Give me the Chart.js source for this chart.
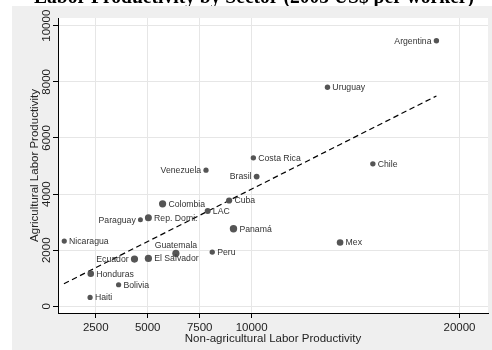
<!DOCTYPE html>
<html>
<head>
<meta charset="utf-8">
<script src="https://cdn.jsdelivr.net/npm/chart.js@4.4.0/dist/chart.umd.min.js"></script>
<style>
    html, body { margin: 0; padding: 0; background: #fff; }
    #myChart { display: block; }
</style>
</head>
<body>
<canvas id="myChart" width="492" height="350"></canvas>
<script>
// productivity per worker, by country
const countries = ['Argentina', 'Uruguay', 'Costa Rica', 'Chile', 'Brasil', 'Venezuela', 'Cuba',
    'Colombia', 'LAC', 'Rep. Domi.', 'Paraguay', 'Panamá', 'Nicaragua', 'Guatemala', 'Peru',
    'Ecuador', 'El Salvador', 'Honduras', 'Bolivia', 'Haiti', 'Mex'];
const nonAgri = [18889, 13648, 10083, 15831, 10241, 7804, 8917,
    5716, 7885, 5033, 4650, 9127, 986, 6356, 8105,
    4364, 5033, 2261, 3600, 2228, 14254];
const agri = [9466, 7808, 5292, 5078, 4626, 4854, 3772,
    3655, 3395, 3157, 3085, 2765, 2327, 1886, 1935,
    1687, 1708, 1163, 772, 320, 2278];

// fitted line ends
const fitX = [971, 18889];
const fitY = [808, 7498];

const xTicks = [2500, 5000, 7500, 10000, 20000];
const yTicks = [0, 2000, 4000, 6000, 8000, 10000];

// where each name sits next to its dot, and dot size
const labelSide = ['l', 'r', 'r', 'r', 'l', 'l', 'r',
    'r', 'r', 'r', 'l', 'r', 'r', 't', 'r',
    'l', 'r', 'r', 'r', 'r', 'r'];
const dotRadius = [2.7, 2.7, 2.7, 2.7, 2.9, 2.6, 3.1,
    3.6, 3.0, 3.5, 2.5, 3.7, 2.6, 3.6, 2.7,
    3.6, 3.6, 3.3, 2.6, 2.6, 3.3];

const FONT = '"Liberation Sans", Arial, sans-serif';

const frame = {
    id: 'frame',
    beforeDraw(chart) {
        const ctx = chart.ctx;
        const a = chart.chartArea;
        ctx.save();
        ctx.fillStyle = '#fff';
        ctx.fillRect(0, 0, chart.width, chart.height);
        // heading, mostly cut off at the top
        ctx.fillStyle = '#000';
        ctx.font = 'bold 22px "Liberation Serif", "Times New Roman", serif';
        ctx.textAlign = 'center';
        ctx.textBaseline = 'alphabetic';
        ctx.fillText('Labor Productivity by Sector (2005 US$ per worker)', 254, 2.5, 440);
        ctx.fillStyle = '#efefef';
        ctx.fillRect(12, 6, chart.width - 12, chart.height - 6);
        ctx.fillStyle = '#fff';
        ctx.fillRect(a.left, a.top, a.right - a.left, a.bottom - a.top);
        ctx.restore();
    },
    afterDatasetsDraw(chart) {
        const ctx = chart.ctx;
        const a = chart.chartArea;
        const xs = chart.scales.x;
        const ys = chart.scales.y;
        const pts = chart.getDatasetMeta(0).data;
        ctx.save();

        // country names
        ctx.fillStyle = '#333';
        ctx.font = '8.7px ' + FONT;
        pts.forEach((p, i) => {
            const r = dotRadius[i];
            if (labelSide[i] === 'r') {
                ctx.textAlign = 'left';
                ctx.textBaseline = 'middle';
                ctx.fillText(countries[i], p.x + r + 2.2, p.y + 0.5);
            } else if (labelSide[i] === 'l') {
                ctx.textAlign = 'right';
                ctx.textBaseline = 'middle';
                ctx.fillText(countries[i], p.x - r - 2.2, p.y + 0.5);
            } else {
                ctx.textAlign = 'center';
                ctx.textBaseline = 'alphabetic';
                ctx.fillText(countries[i], p.x, p.y - r - 2);
            }
        });

        // tick labels
        ctx.fillStyle = '#222';
        ctx.font = '11.5px ' + FONT;
        ctx.textAlign = 'center';
        ctx.textBaseline = 'alphabetic';
        xTicks.forEach(v => {
            ctx.fillText(String(v), xs.getPixelForValue(v), 330.5);
        });
        yTicks.forEach(v => {
            ctx.save();
            ctx.translate(50, ys.getPixelForValue(v));
            ctx.rotate(-Math.PI / 2);
            ctx.fillText(String(v), 0, 0);
            ctx.restore();
        });

        // axis titles
        ctx.font = '11.5px ' + FONT;
        ctx.fillText('Non-agricultural Labor Productivity', (a.left + a.right) / 2, 341.5);
        ctx.save();
        ctx.translate(37.5, (a.top + a.bottom) / 2);
        ctx.rotate(-Math.PI / 2);
        ctx.fillText('Agricultural Labor Productivity', 0, 0);
        ctx.restore();

        ctx.restore();
    }
};

const ctx = document.getElementById('myChart').getContext('2d');
const myChart = new Chart(ctx, {
    type: 'scatter',
    data: {
        datasets: [{
                data: nonAgri.map((v, i) => ({x: v, y: agri[i]})),
                pointRadius: dotRadius,
                pointBackgroundColor: '#555',
                pointBorderWidth: 0,
                order: 1
            }, {
                data: fitX.map((v, i) => ({x: v, y: fitY[i]})),
                showLine: true,
                borderColor: '#000',
                borderWidth: 1.2,
                borderDash: [5.5, 3.5],
                pointRadius: 0,
                order: 2
            }]
    },
    options: {
        responsive: false,
        animation: false,
        devicePixelRatio: 1,
        layout: {
            padding: {left: 12, top: 18, right: 1, bottom: 0}
        },
        plugins: {
            legend: {display: false},
            tooltip: {enabled: false}
        },
        scales: {
            x: {
                type: 'linear',
                min: 685,
                max: 21370,
                afterBuildTicks: s => { s.ticks = xTicks.map(v => ({value: v})); },
                afterFit: s => { s.height = 37; },
                ticks: {display: false},
                grid: {color: '#e6e6e6', lineWidth: 1, tickLength: 5, tickColor: '#000'},
                border: {color: '#000', width: 1}
            },
            y: {
                type: 'linear',
                min: -235,
                max: 10274,
                afterBuildTicks: s => { s.ticks = yTicks.map(v => ({value: v})); },
                afterFit: s => { s.width = 46; },
                ticks: {display: false},
                grid: {color: '#e6e6e6', lineWidth: 1, tickLength: 5, tickColor: '#000'},
                border: {color: '#000', width: 1}
            }
        }
    },
    plugins: [frame]
});
</script>
</body>
</html>
